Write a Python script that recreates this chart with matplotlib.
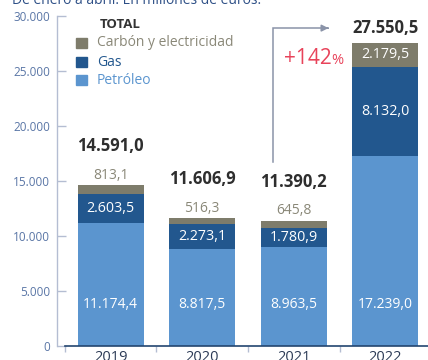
import matplotlib.pyplot as plt
from matplotlib.patches import Rectangle

plt.rcParams['font.family'] = ['Open Sans', 'DejaVu Sans']

years = ['2019', '2020', '2021', '2022']
petroleo = [11174.4, 8817.5, 8963.5, 17239.0]
gas = [2603.5, 2273.1, 1780.9, 8132.0]
carbon = [813.1, 516.3, 645.8, 2179.5]
yticks = [0, 5000, 10000, 15000, 20000, 25000, 30000]
subida = '+142'

c_pet = '#5b95cf'
c_gas = '#22578e'
c_car = '#7e7c6b'
c_axis = '#b4bdd2'


def fmt(v, dec=1):
    s = f'{v:,.{dec}f}'
    return s.replace(',', 'X').replace('.', ',').replace('X', '.')


fig = plt.figure(figsize=(4.28, 3.6), dpi=100)
ax = fig.add_axes([57 / 428, 14 / 360, 371 / 428, 330 / 360])

x = list(range(len(years)))
w = 0.72
totals = [p + g + c for p, g, c in zip(petroleo, gas, carbon)]
bot2 = [p + g for p, g in zip(petroleo, gas)]

ax.bar(x, petroleo, w, color=c_pet)
ax.bar(x, gas, w, bottom=petroleo, color=c_gas)
ax.bar(x, carbon, w, bottom=bot2, color=c_car)

ax.set_xlim(-0.587, 3.467)
ax.set_ylim(0, 30000)

# etiquetas de valores
for i in x:
    ax.annotate(fmt(petroleo[i]), (i, 0), xytext=(0, 41), textcoords='offset pixels',
                ha='center', va='center', color='white', fontsize=10)
    ax.text(i, petroleo[i] + gas[i] / 2, fmt(gas[i]), ha='center', va='center',
            color='white', fontsize=10.3)
    if i < 3:
        ax.annotate(fmt(carbon[i]), (i, totals[i]), xytext=(0, 10), textcoords='offset pixels',
                    ha='center', va='center', color='#8a8878', fontsize=10)
        ax.annotate(fmt(totals[i]), (i, totals[i]), xytext=(0, 39), textcoords='offset pixels',
                    ha='center', va='center', color='#2e2e2e', fontsize=12, fontweight='bold')
    else:
        ax.text(i, bot2[i] + carbon[i] / 2, fmt(carbon[i]), ha='center', va='center',
                color='white', fontsize=10.3)
        ax.annotate(fmt(totals[i]), (i, totals[i]), xytext=(0, 15), textcoords='offset pixels',
                    ha='center', va='center', color='#2e2e2e', fontsize=12, fontweight='bold')

# flecha 2021 -> 2022
ax.plot([1.773, 1.773, 2.36], [16700, 28900, 28900], color='#8a93a8', lw=1.1,
        solid_joinstyle='miter')
ax.annotate('', xy=(2.41, 28900), xytext=(2.34, 28900),
            arrowprops=dict(arrowstyle='-|>', color='#8a93a8', lw=1.1, mutation_scale=10))
ax.text(2.41, 26150, subida, ha='right', va='center', color='#e8435a', fontsize=15)
ax.text(2.41, 25950, '%', ha='left', va='center', color='#e8435a', fontsize=10.5)

# leyenda
leg = [('Carbón y electricidad', c_car, '#8a8878'),
       ('Gas', c_gas, c_gas),
       ('Petróleo', c_pet, c_pet)]
ax.text((100 - 57) / 371, (346 - 24.5) / 330, 'TOTAL', transform=ax.transAxes,
        ha='left', va='center', fontsize=9.5, fontweight='bold', color='#333333')
for k, (lab, fc, tc) in enumerate(leg):
    yc = [43, 62, 80][k]
    ax.add_patch(Rectangle(((76 - 57) / 371, (346 - yc - 5) / 330), 11 / 371, 10 / 330,
                           transform=ax.transAxes, color=fc, clip_on=False))
    ax.text((97 - 57) / 371, (346 - yc) / 330, lab, transform=ax.transAxes,
            ha='left', va='center', fontsize=10, color=tc)

# ejes
for s in ['top', 'right']:
    ax.spines[s].set_visible(False)
ax.spines['left'].set_color(c_axis)
ax.spines['left'].set_linewidth(1)
ax.spines['bottom'].set_color('#23456f')
ax.spines['bottom'].set_linewidth(1.2)
ax.spines['bottom'].set_bounds(-0.5, 3.467)

ax.set_yticks(yticks)
ax.set_yticklabels([fmt(v, 0) for v in yticks])
ax.tick_params(axis='y', direction='in', length=6.5, width=1, color=c_axis,
               labelcolor='#5a76a6', labelsize=8.5, pad=5)

ax.set_xticks(x)
ax.set_xticklabels(years)
ax.tick_params(axis='x', which='major', length=0, pad=3, labelsize=10.5,
               labelcolor='#2b3a55')
ax.set_xticks([-0.5, 0.5, 1.5, 2.5], minor=True)
ax.tick_params(axis='x', which='minor', direction='out', length=4, width=1, color=c_axis)

fig.text(12 / 428, 1 - 4 / 360, 'De enero a abril. En millones de euros.',
         ha='left', va='baseline', fontsize=10, color='#2d4f86')

fig.savefig('out.png', dpi=100)
